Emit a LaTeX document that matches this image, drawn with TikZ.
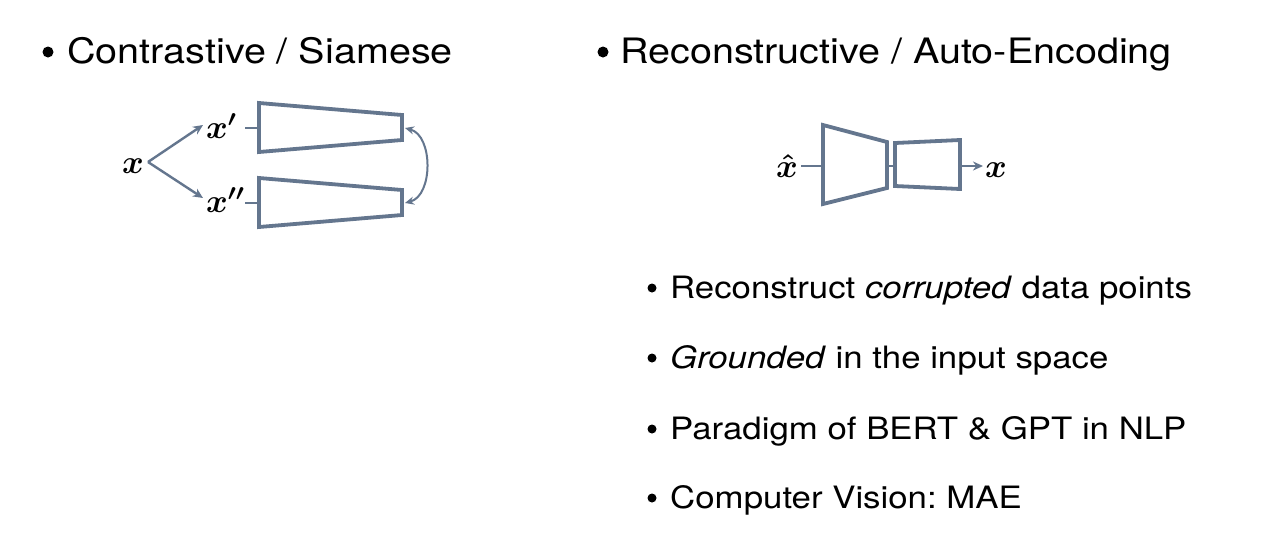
\RequirePackage{fix-cm}
\documentclass[tikz,border=0pt]{standalone}
\usepackage{fontspec}
\setmainfont{TeX Gyre Heros}[FakeStretch=1.13]
\usetikzlibrary{arrows.meta}
\definecolor{slate}{RGB}{100,118,142}
\frenchspacing
\begin{document}
\begin{tikzpicture}[x=1pt,y=-1pt,
  head/.style={anchor=base west, inner sep=0pt, font=\fontsize{35}{40}\selectfont},
  item/.style={anchor=base west, inner sep=0pt, font=\fontsize{30.8}{36}\selectfont},
  mlabel/.style={anchor=base west, inner sep=0pt, font=\fontsize{33}{40}\selectfont\boldmath},
  bul/.style={circle, fill=black, inner sep=0pt},
  blk/.style={draw=slate, line width=3.8pt, line join=miter},
  conn/.style={draw=slate, line width=2.4pt},
  tip/.style={-{Stealth[length=10pt,width=9pt]}}]
\useasboundingbox[fill=white] (0,0) rectangle (1275,539);

% headings
\node[bul, minimum size=11pt] (b1) at (48,52) {};
\node[head] (h1) at (67,63) {Contrastive / Siamese};
\node[bul, minimum size=11pt] (b2) at (603,52) {};
\node[head] (h2) at (620,63) {Reconstructive / Auto-Encoding};

% items
\node[bul, minimum size=9pt] (ib1) at (652,288) {};
\node[item] (i1) at (670,298) {Reconstruct \textit{corrupted} data points};
\node[bul, minimum size=9pt] (ib2) at (652,358) {};
\node[item] (i2) at (670,368) {\textit{Grounded} in the input space};
\node[bul, minimum size=9pt] (ib3) at (652,429) {};
\node[item] (i3) at (670,439) {Paradigm of BERT \& GPT in NLP};
\node[bul, minimum size=9pt] (ib4) at (652,498) {};
\node[item] (i4) at (670,508) {Computer Vision: MAE};

% left diagram
\node[mlabel] (x) at (122,173) {$x$};
\node[mlabel] (xp) at (206,138) {$x'$};
\node[mlabel] (xpp) at (206,212) {$x''$};
\coordinate (xs) at (148,162);
\coordinate (xpe) at (203,125);
\coordinate (xppe) at (203,198);
\draw[conn, tip] (xs) -- (xpe);
\draw[conn, tip] (xs) -- (xppe);

\coordinate (u1) at (259,103);
\coordinate (u2) at (402,115);
\coordinate (u3) at (402,140);
\coordinate (u4) at (259,152);
\draw[blk] (u1) -- (u2) -- (u3) -- (u4) -- cycle;
\coordinate (l1) at (259,178);
\coordinate (l2) at (402,190);
\coordinate (l3) at (402,215);
\coordinate (l4) at (259,227);
\draw[blk] (l1) -- (l2) -- (l3) -- (l4) -- cycle;

\coordinate (uin) at (245,128);
\coordinate (ul) at (259,128);
\coordinate (lin) at (245,203);
\coordinate (ll) at (259,203);
\draw[conn] (uin) -- (ul);
\draw[conn] (lin) -- (ll);

\coordinate (ur) at (405,128);
\coordinate (lr) at (405,203);
\draw[conn, line width=2pt, {Stealth[length=9pt,width=8pt]}-{Stealth[length=9pt,width=8pt]}] (ur) to[bend left=75] (lr);

% right diagram
\node[mlabel] (xh) at (776,177) {$\hat{x}$};
\node[mlabel] (xo) at (985,177) {$x$};
\coordinate (e1) at (823,125);
\coordinate (e2) at (887,142);
\coordinate (e3) at (887,188);
\coordinate (e4) at (823,204);
\draw[blk] (e1) -- (e2) -- (e3) -- (e4) -- cycle;
\coordinate (d1) at (895,143);
\coordinate (d2) at (960,140);
\coordinate (d3) at (960,189);
\coordinate (d4) at (895,186);
\draw[blk] (d1) -- (d2) -- (d3) -- (d4) -- cycle;
\coordinate (xhe) at (801,166);
\coordinate (el) at (823,166);
\coordinate (er) at (887,166);
\coordinate (dl) at (895,166);
\coordinate (dr) at (960,166);
\coordinate (oe) at (983,166);
\draw[conn] (xhe) -- (el);
\draw[conn] (er) -- (dl);
\draw[conn, tip] (dr) -- (oe);
\end{tikzpicture}
\end{document}
